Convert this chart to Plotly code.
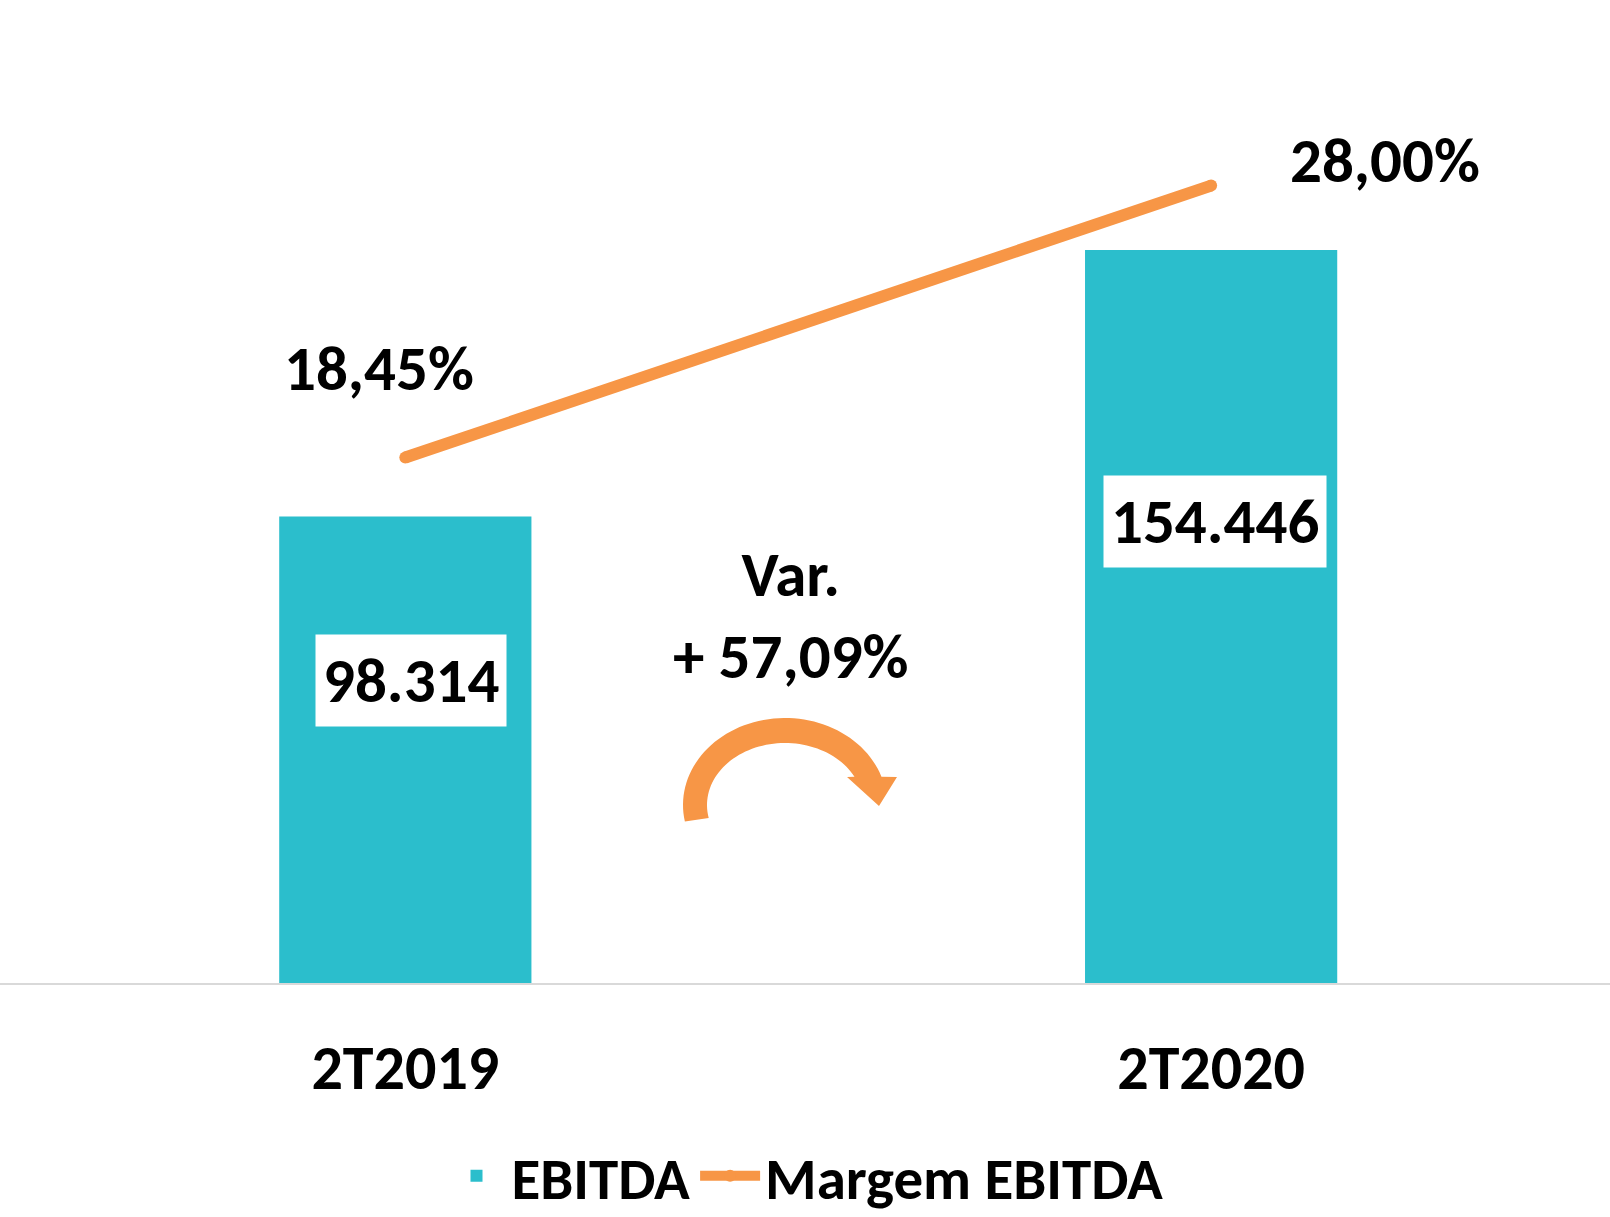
import math
import plotly.graph_objects as go

# ---- data ----
periods = ["2T2019", "2T2020"]
ebitda = [98314, 154446]
margem = [18.45, 28.00]
variacao = 57.09

# ---- style ----
TEAL = "#2BBECC"
ORANGE = "#F79646"
FONT = "Carlito, Lato, sans-serif"
W, H = 1610, 1217
PLOT_BOTTOM = 983  # pixel y of the category axis


def fmt_int_br(v):
    return f"{v:,}".replace(",", ".")


def fmt_pct_br(v):
    return f"{v:.2f}".replace(".", ",") + "%"


fig = go.Figure()
fig.add_trace(go.Bar(
    x=periods, y=ebitda, name="EBITDA",
    marker=dict(color=TEAL, line=dict(width=0)),
    yaxis="y",
))
fig.add_trace(go.Scatter(
    x=periods, y=margem, name="Margem EBITDA",
    mode="lines+markers",
    line=dict(color=ORANGE, width=12),
    marker=dict(color=ORANGE, size=12),
    yaxis="y2",
))

LABEL_SIZE = 63
annotations = []
# value boxes inside bars (offsets in pixels from bar top)
box_shift = [(6, -164), (4, -271)]
for p, v, (dx, dy) in zip(periods, ebitda, box_shift):
    annotations.append(dict(
        x=p, y=v, xref="x", yref="y", text=fmt_int_br(v), showarrow=False,
        xshift=dx, yshift=dy, bgcolor="white", borderpad=7,
        font=dict(family=FONT, size=LABEL_SIZE, color="black", weight="bold"),
    ))
# margin labels
pct_shift = [(-26, 89), (174, 25)]
for p, v, (dx, dy) in zip(periods, margem, pct_shift):
    annotations.append(dict(
        x=p, y=v, xref="x", yref="y2", text=fmt_pct_br(v), showarrow=False,
        xshift=dx, yshift=dy,
        font=dict(family=FONT, size=LABEL_SIZE, color="black", weight="bold"),
    ))
# variation text
annotations.append(dict(
    x=791 / W, y=(PLOT_BOTTOM - 616) / PLOT_BOTTOM, xref="paper", yref="paper",
    text="Var.<br>+ " + fmt_pct_br(variacao), showarrow=False,
    font=dict(family=FONT, size=LABEL_SIZE, color="black", weight="bold"),
    align="center",
))

# curved arrow shape (pixel geometry converted to paper coords)
cx, cy = 785, 805
rxo, ryo, rxi, ryi = 102, 87, 78, 62
pts = []
for k in range(0, 61):
    a = math.radians(191 - (191 - 19) * k / 60)
    pts.append((cx + rxo * math.cos(a), cy - ryo * math.sin(a)))
pts += [(897, 777), (879, 806), (847, 777)]
for k in range(0, 61):
    a = math.radians(27 + (192 - 27) * k / 60)
    pts.append((cx + rxi * math.cos(a), cy - ryi * math.sin(a)))


def to_paper(px, py):
    return px / W, (PLOT_BOTTOM - py) / PLOT_BOTTOM


path = "M " + " L ".join(f"{to_paper(x, y)[0]:.5f},{to_paper(x, y)[1]:.5f}" for x, y in pts) + " Z"
shapes = [dict(type="path", xref="paper", yref="paper", path=path,
               fillcolor=ORANGE, line=dict(width=0))]

y_max = max(ebitda) * PLOT_BOTTOM / 733
y2_max = PLOT_BOTTOM / 28.48

fig.update_layout(
    width=W, height=H,
    margin=dict(l=0, r=0, t=0, b=H - PLOT_BOTTOM, autoexpand=False),
    paper_bgcolor="white", plot_bgcolor="white",
    bargap=0.687,
    showlegend=True,
    legend=dict(orientation="h", x=0.5, xanchor="center", y=(PLOT_BOTTOM - 1176) / PLOT_BOTTOM,
                yanchor="middle", font=dict(family=FONT, size=59, color="black", weight="bold"),
                itemwidth=60, traceorder="normal"),
    xaxis=dict(range=[-0.503, 1.495], showline=True, linecolor="#D9D9D9", linewidth=2,
               showgrid=False, zeroline=False, ticks="",
               tickfont=dict(family=FONT, size=62, color="black", weight="bold"),
               ticklabelstandoff=30),
    yaxis=dict(range=[0, y_max], visible=False, showgrid=False, zeroline=False),
    yaxis2=dict(range=[0, y2_max], overlaying="y", visible=False, showgrid=False, zeroline=False),
    annotations=annotations,
    shapes=shapes,
)

fig.write_html("out.html", config={"displayModeBar": False},
               post_script="document.body.style.margin='0';document.body.style.overflow='hidden';")
